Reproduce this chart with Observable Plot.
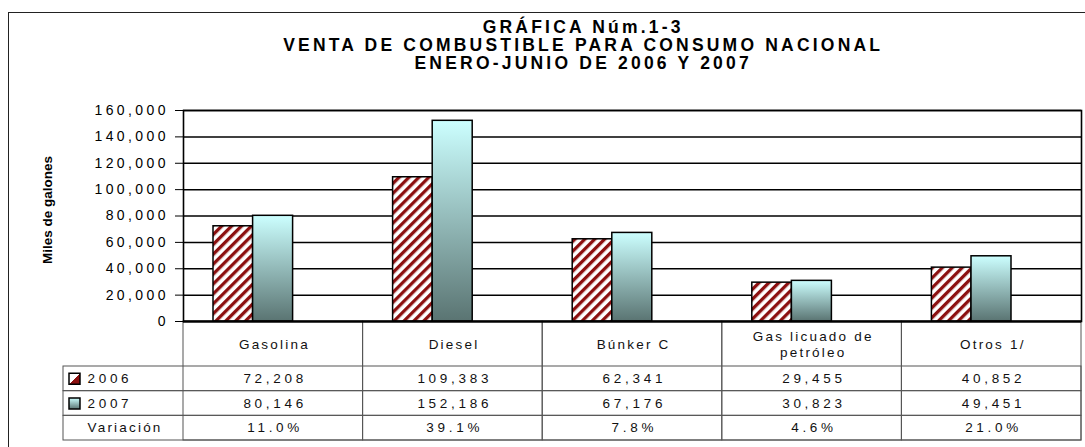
<!DOCTYPE html>
<html><head><meta charset="utf-8">
<script src="https://cdn.jsdelivr.net/npm/d3@7"></script>
<script src="https://cdn.jsdelivr.net/npm/@observablehq/plot@0.6"></script>
<style>
html,body{margin:0;padding:0;background:#fff;overflow:hidden}
#wrap{position:relative;width:1085px;height:447px;overflow:hidden;font-family:"Liberation Sans",Arial,sans-serif;background:#fff}
#border{position:absolute;left:8px;top:12px;width:1200px;height:600px;border-top:1.5px solid #222;border-left:1.5px solid #222}
#title{position:absolute;left:180px;width:800px;top:17.7px;text-align:center;font-weight:bold;font-size:17.5px;letter-spacing:3.2px;line-height:18px;padding-left:3.2px;color:#000}
.layer{position:absolute;left:0}
g[aria-label^="y-axis"] text{letter-spacing:3.4px}
</style></head>
<body>
<svg width="0" height="0" style="position:absolute">
 <defs>
  <pattern id="hatch" patternUnits="userSpaceOnUse" width="7" height="7" patternTransform="rotate(45)">
   <rect width="7" height="7" fill="#ffffff"/>
   <rect x="0" y="0" width="3.3" height="7" fill="#8c1010"/>
  </pattern>
  <linearGradient id="grad07" x1="0" y1="0" x2="0" y2="1">
   <stop offset="0" stop-color="#ccffff"/>
   <stop offset="1" stop-color="#5a7472"/>
  </linearGradient>
  <linearGradient id="sw06" x1="0" y1="0" x2="1" y2="1">
   <stop offset="0.5" stop-color="#ffffff"/>
   <stop offset="0.5" stop-color="#8c1010"/>
  </linearGradient>
 </defs>
</svg>
<div id="wrap">
 <div id="border"></div>
 <div id="title">GRÁFICA Núm.1-3<br>VENTA DE COMBUSTIBLE PARA CONSUMO NACIONAL<br>ENERO-JUNIO DE 2006 Y 2007</div>
</div>
<script>
// ---- data ----
const categories = ["Gasolina", "Diesel", "Búnker C", "Gas licuado de\npetróleo", "Otros 1/"];
const v2006 = [72208, 109383, 62341, 29455, 40852];
const v2007 = [80146, 152186, 67176, 30823, 49451];
const variation = [11.0, 39.1, 7.8, 4.6, 21.0];
const rowLabels = ["2006", "2007", "Variación"];
const yTicks = [0, 20000, 40000, 60000, 80000, 100000, 120000, 140000, 160000];
const yLabel = "Miles de galones";

const fmt = d3.format(",");
const rows2006 = categories.map((c, i) => ({cat: c, value: v2006[i]}));
const rows2007 = categories.map((c, i) => ({cat: c, value: v2007[i]}));
const cells = [];
categories.forEach((c, i) => {
  cells.push({cat: c, row: rowLabels[0], text: fmt(v2006[i])});
  cells.push({cat: c, row: rowLabels[1], text: fmt(v2007[i])});
  cells.push({cat: c, row: rowLabels[2], text: variation[i].toFixed(1) + "%"});
});

const font = "Liberation Sans, Arial, sans-serif";
const wrap = document.getElementById("wrap");

// ---- table ----
const table = Plot.plot({
  width: 1085, height: 126,
  marginTop: 45, marginBottom: 7, marginLeft: 183, marginRight: 4,
  style: {background: "transparent", fontFamily: font, fontSize: "13.5px", color: "#111", overflow: "visible"},
  x: {domain: categories, padding: 0, round: false, axis: null},
  y: {domain: rowLabels, padding: 0, round: false, axis: null},
  marks: [
    Plot.cell(categories, {x: d => d, fill: "none", stroke: "#555", strokeWidth: 1, insetTop: -45}),
    Plot.cell(rowLabels, {y: d => d, fill: "none", stroke: "#555", strokeWidth: 1, insetLeft: -120}),
    Plot.text(categories, {x: d => d, text: d => d, frameAnchor: "top", lineAnchor: "middle", dy: -22.5, dx: 1.1, lineHeight: 1.2}),
    Plot.text(cells, {x: "cat", y: "row", text: "text", dx: 1.85}),
    Plot.text(rowLabels, {y: d => d, text: d => d, frameAnchor: "left", dx: -96, textAnchor: "start"}),
    Plot.dot([rowLabels[0]], {y: d => d, frameAnchor: "left", dx: -109, symbol: "square", r: 6.2, fill: "url(#sw06)", stroke: "black", strokeWidth: 1.5}),
    Plot.dot([rowLabels[1]], {y: d => d, frameAnchor: "left", dx: -109, symbol: "square", r: 6.2, fill: "url(#grad07)", stroke: "black", strokeWidth: 1.5})
  ]
});
d3.select(table).selectAll("text").each(function() {
  const t = this.textContent.trim();
  this.style.letterSpacing = /^[\d.,%]+$/.test(t) ? "3.7px" : "2.2px";
});
table.classList.add("layer");
table.style.top = "321px";
wrap.appendChild(table);

// ---- chart ----
const chart = Plot.plot({
  width: 1085, height: 323,
  marginTop: 110, marginBottom: 2, marginLeft: 183, marginRight: 4,
  style: {background: "transparent", fontFamily: font, fontSize: "14px", color: "black", overflow: "visible"},
  x: {domain: categories, padding: 0, round: false, axis: null},
  y: {domain: [0, 160000], ticks: yTicks, tickFormat: fmt, tickSize: 8, tickPadding: 6.6, label: null},
  marks: [
    Plot.ruleY(yTicks, {stroke: "black", strokeWidth: 1.5}),
    Plot.barY(rows2006, {x: "cat", y: "value", fill: "url(#hatch)", stroke: "black", strokeWidth: 1.5, insetLeft: 30, insetRight: 110}),
    Plot.barY(rows2007, {x: "cat", y: "value", fill: "url(#grad07)", stroke: "black", strokeWidth: 1.5, insetLeft: 69.6, insetRight: 70}),
    Plot.frame({stroke: "black", strokeWidth: 1.6}),
    Plot.ruleY([0], {stroke: "black", strokeWidth: 2}),
    Plot.text([yLabel], {text: d => d, frameAnchor: "left", textAnchor: "middle", dx: -136, dy: -6, rotate: -90, fontWeight: "bold", fontSize: 13.5})
  ]
});
chart.classList.add("layer");
chart.style.top = "0px";
wrap.appendChild(chart);
</script>
</body></html>
